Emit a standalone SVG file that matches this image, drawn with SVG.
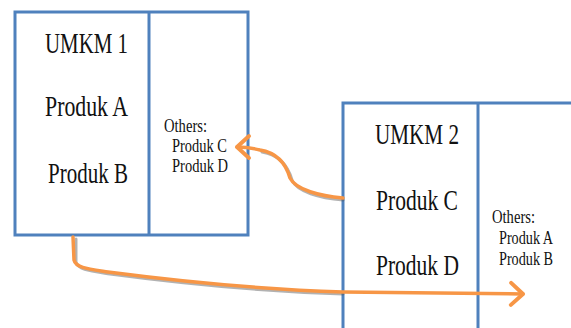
<svg xmlns="http://www.w3.org/2000/svg" width="571" height="328" viewBox="0 0 571 328">
<style>
.box{fill:#fff;stroke:#4F81BD;stroke-width:3}
.div{stroke:#4F81BD;stroke-width:3}
.big{font-family:"Liberation Serif","Times New Roman",serif;font-size:29px;fill:#111}
.small{font-family:"Liberation Serif","Times New Roman",serif;font-size:19px;fill:#111}
.arr{fill:none;stroke:#F79646;stroke-width:3.5;stroke-linecap:round;stroke-linejoin:round}
.shadow{fill:none;stroke:#555;stroke-opacity:0.45;stroke-width:3;stroke-linecap:round}
</style>
<defs>
<marker id="head" markerUnits="userSpaceOnUse" markerWidth="24" markerHeight="28" refX="14" refY="12" orient="auto" overflow="visible">
<path d="M2,1 L14,12 L2,23" fill="none" stroke="#F79646" stroke-width="4" stroke-linecap="round" stroke-linejoin="round"/>
</marker>
</defs>
<g id="umkm1">
<rect class="box" x="15" y="12" width="233" height="223"/>
<line class="div" x1="149" y1="12" x2="149" y2="235"/>
<text class="big" x="45" y="53" textLength="83" lengthAdjust="spacingAndGlyphs">UMKM 1</text>
<text class="big" x="45" y="116" textLength="83" lengthAdjust="spacingAndGlyphs">Produk A</text>
<text class="big" x="48" y="183" textLength="80" lengthAdjust="spacingAndGlyphs">Produk B</text>
<text class="small" x="164" y="132" textLength="43" lengthAdjust="spacingAndGlyphs">Others:</text>
<text class="small" x="172" y="152" textLength="55" lengthAdjust="spacingAndGlyphs">Produk C</text>
<text class="small" x="172" y="172" textLength="56" lengthAdjust="spacingAndGlyphs">Produk D</text>
</g>
<g id="umkm2">
<rect class="box" x="343" y="103" width="232" height="230"/>
<line class="div" x1="478" y1="103" x2="478" y2="330"/>
<text class="big" x="375" y="144" textLength="84" lengthAdjust="spacingAndGlyphs">UMKM 2</text>
<text class="big" x="376" y="210" textLength="82" lengthAdjust="spacingAndGlyphs">Produk C</text>
<text class="big" x="376" y="275" textLength="83" lengthAdjust="spacingAndGlyphs">Produk D</text>
<text class="small" x="492" y="223" textLength="43" lengthAdjust="spacingAndGlyphs">Others:</text>
<text class="small" x="499" y="244" textLength="54" lengthAdjust="spacingAndGlyphs">Produk A</text>
<text class="small" x="499" y="265" textLength="54" lengthAdjust="spacingAndGlyphs">Produk B</text>
</g>
<g id="connectors">
<path class="shadow" d="M343,200 C320,198 297,192 292,180 C288,166 280,155 262,152"/>
<path class="shadow" d="M76,239 L76,262 C78,270 90,271 110,274 C200,286 280,292 343,294"/>
<path class="arr" d="M343,198 C320,196 296,190 290,178 C286,164 278,153 260,150 C252,148 244,147 237,147" marker-end="url(#head)"/>
<path class="arr" d="M73,237 L74,260 C76,268 88,269 108,272 C200,284 280,290 343,292 L523,294" marker-end="url(#head)"/>
</g>
</svg>
